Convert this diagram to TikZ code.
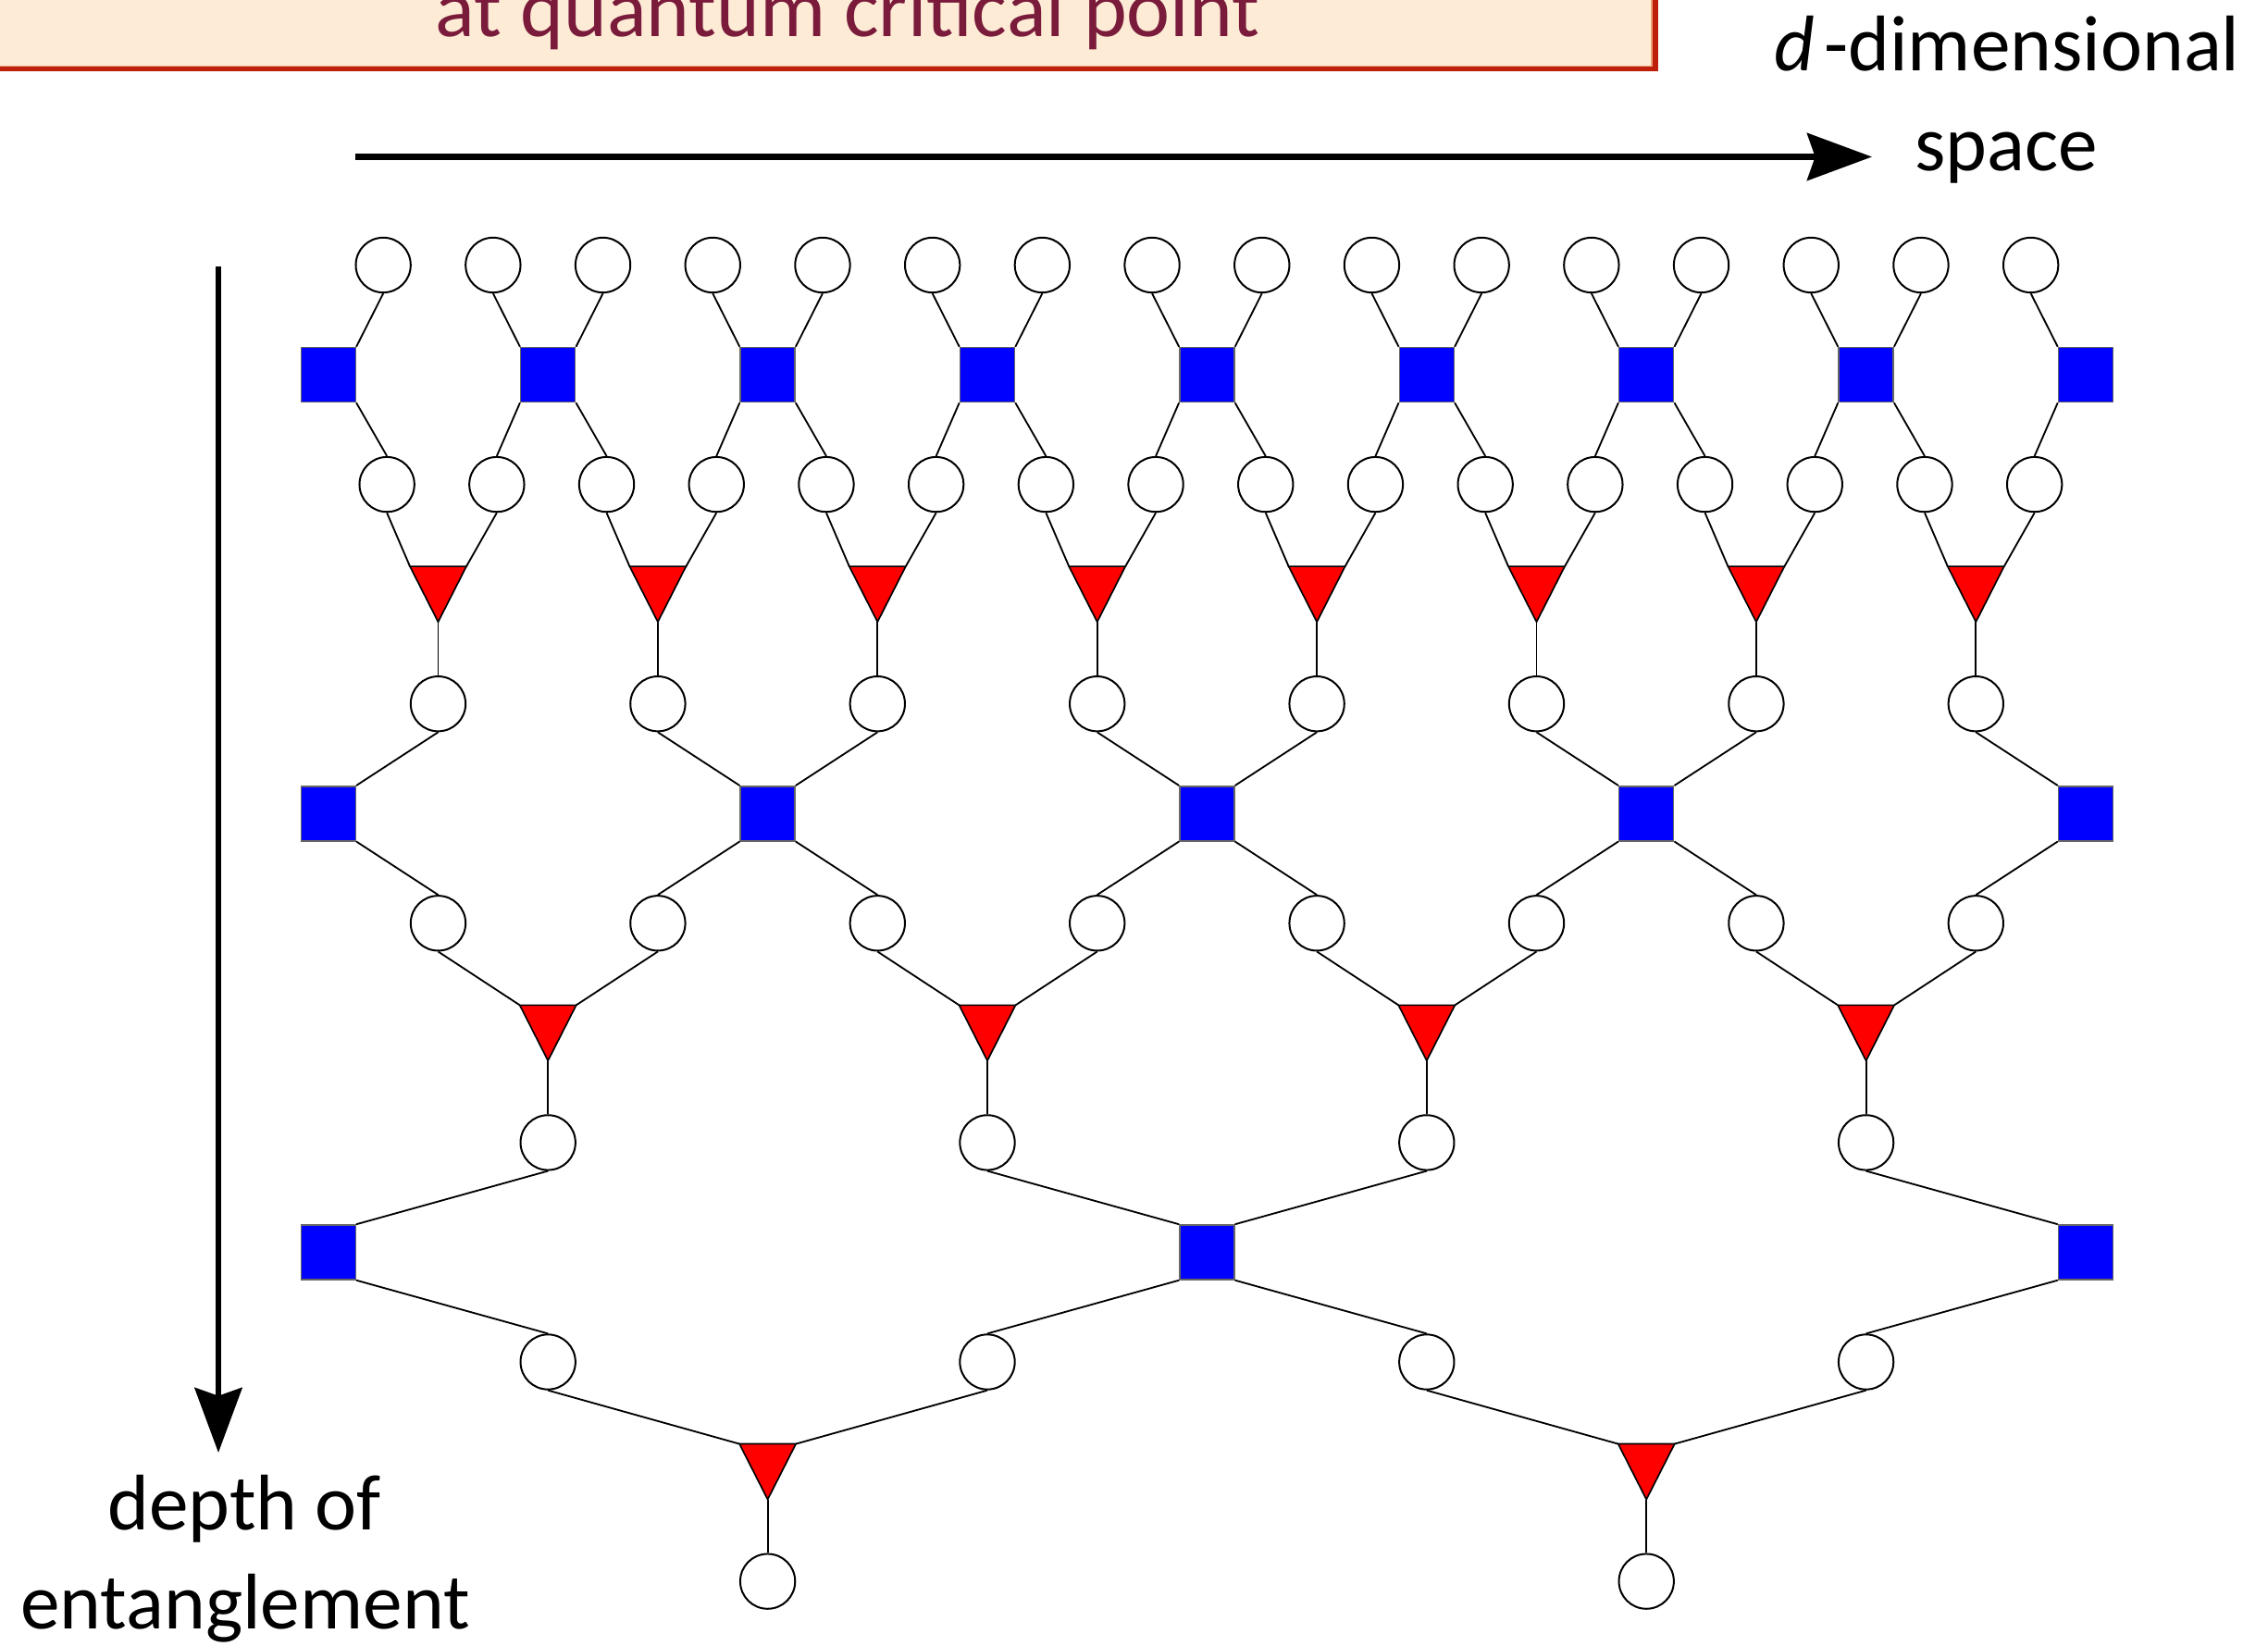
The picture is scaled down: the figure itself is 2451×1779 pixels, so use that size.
\documentclass[tikz,border=0pt]{standalone}
\usepackage{fontspec}
\setmainfont{Carlito}
\usetikzlibrary{arrows.meta}
\definecolor{boxfill}{RGB}{253,235,213}
\definecolor{boxedge}{RGB}{190,30,10}
\definecolor{boxline}{RGB}{235,160,120}
\definecolor{titlecol}{RGB}{122,27,59}
\definecolor{sqblue}{RGB}{0,0,255}
\definecolor{trired}{RGB}{255,0,0}

\newcommand\netlevel[8]{%
  \foreach \s [evaluate=\s as \sl using int(\s-#6), evaluate=\s as \sr using int(\s+#6)] in {#7} {
    \ifnum\s>0
      \draw[link] (c#1-\sl.south) -- (s#2-\s.north west);
      \draw[link] (s#2-\s.south west) -- (c#3-\sl.north);
    \fi
    \ifnum\s<32
      \draw[link] (c#1-\sr.south) -- (s#2-\s.north east);
      \draw[link] (s#2-\s.south east) -- (c#3-\sr.north);
    \fi
  }
  \foreach \t [evaluate=\t as \tl using int(\t-#6), evaluate=\t as \tr using int(\t+#6)] in {#8} {
    \draw[link] (c#3-\tl.south) -- (t#4-\t.north west);
    \draw[link] (c#3-\tr.south) -- (t#4-\t.north east);
    \draw[link] (t#4-\t.south) -- (c#5-\t.north);
    \filldraw[tri] (t#4-\t.north west) -- (t#4-\t.north east) -- (t#4-\t.south) -- cycle;
  }
}

\begin{document}
\begin{tikzpicture}[x=0.3pt,y=-0.3pt,
  qc/.style={circle,draw=black,fill=white,line width=0.6pt,minimum size=17.8pt,inner sep=0pt},
  sq/.style={rectangle,draw=black!60,fill=sqblue,line width=0.45pt,minimum size=17.7pt,inner sep=0pt},
  trib/.style={rectangle,draw=none,minimum width=17.9pt,minimum height=17.6pt,inner sep=0pt},
  tri/.style={fill=trired,draw=black,line width=0.5pt,line join=miter},
  link/.style={draw=black,line width=0.55pt},
  axis/.style={draw=black,line width=2pt,-{Stealth[length=21pt,width=15.3pt,inset=2.6pt]}},
  lbl/.style={font=\fontsize{25.6pt}{30pt}\selectfont,anchor=base,inner sep=0pt,text=black}
]
\useasboundingbox (0,0) rectangle (2451,1779);
\clip (0,0) rectangle (2451,1779);
\fill[white] (0,0) rectangle (2451,1779);

% title box
\fill[boxedge] (-20,-20) rectangle (1792,77);
\filldraw[fill=boxfill,draw=boxline,line width=0.4pt] (-20,-20) rectangle (1785,71.5);
\node[anchor=base,inner sep=0pt,text=titlecol,font=\fontsize{26.7pt}{30pt}\selectfont] (title) at (916,40) {at quantum critical point};

% axis labels
\node[lbl] (dimlbl) at (2169,77) {\textit{d}\kern0.12em-dimensional};
\node[lbl] (spacelbl) at (2168,185) {space};
\node[lbl] (depthlbl) at (264,1653) {depth of};
\node[lbl] (entlbl) at (265,1760) {entanglement};

% axes
\coordinate (h0) at (384,169.5);
\coordinate (h1) at (2023,169.5);
\draw[axis] (h0) -- (h1);
\coordinate (v0) at (236,288);
\coordinate (v1) at (236,1570);
\draw[axis] (v0) -- (v1);

% ---- nodes ----
% level 1
\foreach \m in {1,3,...,31} \node[qc] (c0-\m) at ({354.8+59.35*\m},286.5) {};
\foreach \m in {0,4,...,32} \node[sq] (s1-\m) at ({354.8+59.35*\m},405.05) {};
\foreach \m in {1,3,...,31} \node[qc] (c2-\m) at ({358.8+59.35*\m},523.6) {};
\foreach \m in {2,6,...,30} \node[trib] (t3-\m) at ({354.8+59.35*\m},642.15) {};
\foreach \m in {2,6,...,30} \node[qc] (c4-\m) at ({354.8+59.35*\m},760.7) {};
% level 2
\foreach \m in {0,8,...,32} \node[sq] (s5-\m) at ({354.8+59.35*\m},879.25) {};
\foreach \m in {2,6,...,30} \node[qc] (c6-\m) at ({354.8+59.35*\m},997.8) {};
\foreach \m in {4,12,20,28} \node[trib] (t7-\m) at ({354.8+59.35*\m},1116.35) {};
\foreach \m in {4,12,20,28} \node[qc] (c8-\m) at ({354.8+59.35*\m},1234.9) {};
% level 3
\foreach \m in {0,16,32} \node[sq] (s9-\m) at ({354.8+59.35*\m},1353.45) {};
\foreach \m in {4,12,20,28} \node[qc] (c10-\m) at ({354.8+59.35*\m},1472) {};
\foreach \m in {8,24} \node[trib] (t11-\m) at ({354.8+59.35*\m},1590.55) {};
\foreach \m in {8,24} \node[qc] (c12-\m) at ({354.8+59.35*\m},1709.1) {};

% ---- connectors and triangles ----
\netlevel{0}{1}{2}{3}{4}{1}{0,4,...,32}{2,6,...,30}
\netlevel{4}{5}{6}{7}{8}{2}{0,8,...,32}{4,12,20,28}
\netlevel{8}{9}{10}{11}{12}{4}{0,16,32}{8,24}
\end{tikzpicture}
\end{document}
